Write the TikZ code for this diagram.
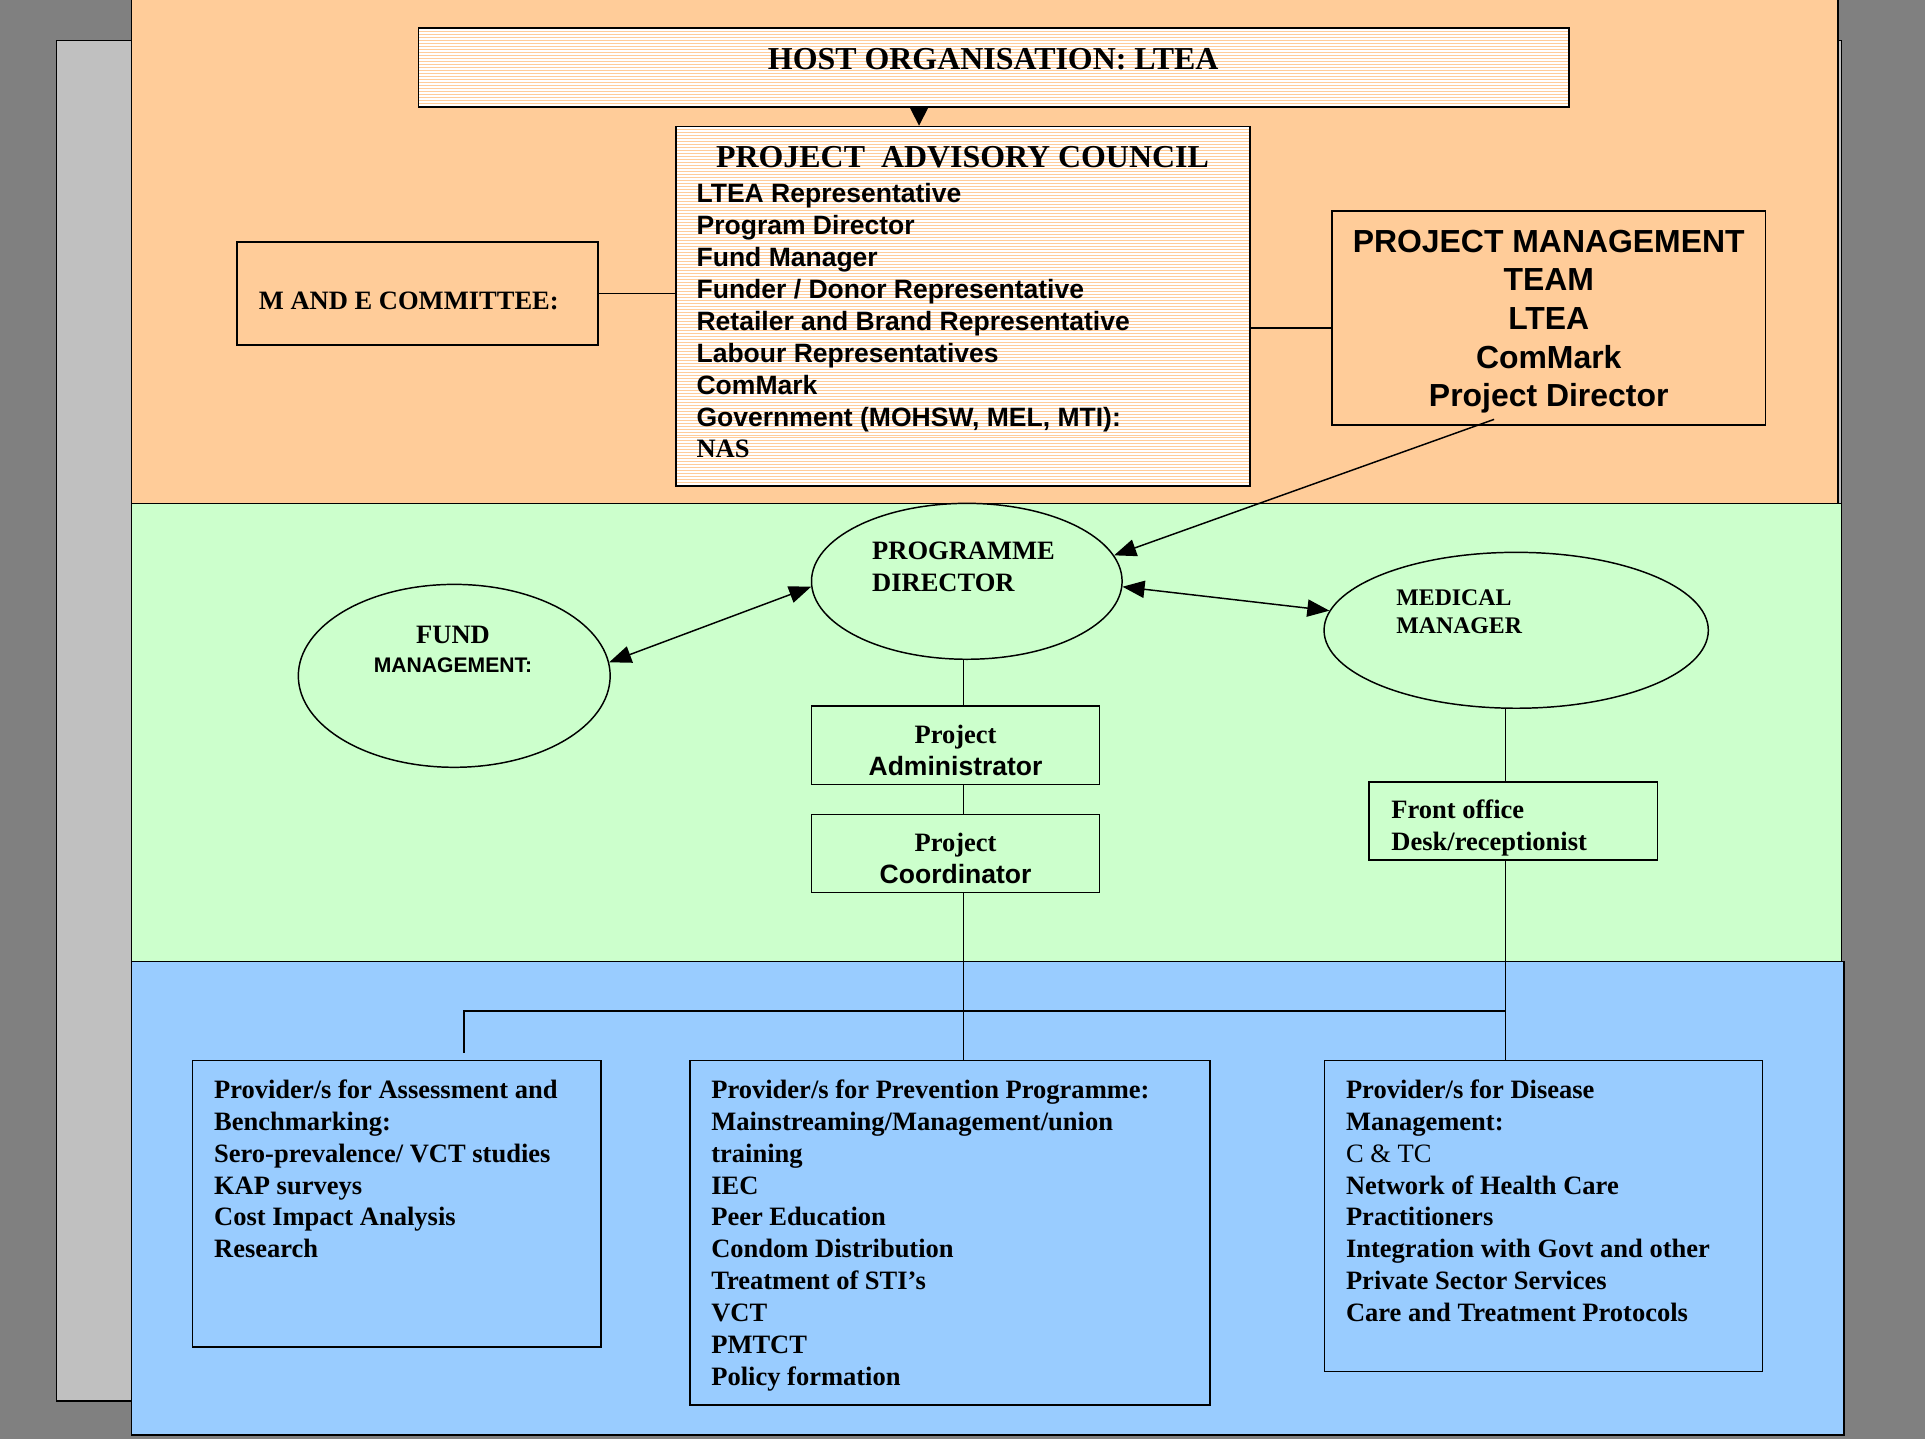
\documentclass[tikz,border=0pt]{standalone}
\usepackage{fontspec}
\setmainfont{Liberation Serif}
\setsansfont{Liberation Sans}
\usetikzlibrary{arrows.meta, positioning, shapes.geometric}

\definecolor{bggray}{HTML}{808080}
\definecolor{panelgray}{HTML}{C0C0C0}
\definecolor{peach}{HTML}{FFCC99}
\definecolor{mint}{HTML}{CCFFCC}
\definecolor{sky}{HTML}{99CCFF}

\begin{document}
\begin{tikzpicture}[
    x=0.5pt, y=-0.5pt,
    box/.style={draw, line width=0.6pt, inner sep=0pt},
    oval/.style={ellipse, draw, line width=0.6pt, inner sep=0pt},
    striped/.style={box, fill=white, path picture={
        \foreach \k in {0,...,125}
          \draw[peach, line width=0.4pt]
            ([yshift=-\k*1.22pt]path picture bounding box.north west) --
            ([yshift=-\k*1.22pt]path picture bounding box.north east);}},
    serifb/.style={font=\fontsize{10.8}{13}\selectfont\bfseries, inner sep=0pt},
    sansb/.style={font=\fontsize{10.8}{13}\selectfont\sffamily\bfseries, inner sep=0pt},
    link/.style={line width=0.6pt},
    arrowline/.style={line width=0.6pt, -{Triangle[length=9pt, width=7pt]}},
    twoway/.style={line width=0.6pt, {Triangle[length=9pt, width=7pt]}-{Triangle[length=9pt, width=7pt]}}
  ]
  % Background bands
  \clip (0,0) rectangle (1568,1172);
  \fill[bggray] (0,0) rectangle (1568,1172);
  \draw[fill=panelgray, line width=0.6pt] (46,33) rectangle (1500,1141);
  \draw[fill=peach, line width=0.6pt] (107,-5) rectangle (1497,410);
  \draw[fill=mint, line width=0.6pt] (107,410) rectangle (1500,783);
  \draw[fill=sky, line width=0.6pt] (107,783) rectangle (1502,1169);

  % Governance
  \node[striped, minimum width=468.5pt, minimum height=32pt] (host) at (809.5,55) {};
  \node[serifb, font=\fontsize{13}{15}\selectfont\bfseries] (hosttext) at (809,48) {HOST ORGANISATION: LTEA};
  \node[striped, minimum width=233.75pt, minimum height=146.5pt] (council) at (784.25,249.5) {};
  \node[serifb, font=\fontsize{13}{15}\selectfont\bfseries] (counciltitle) at (784,128) {PROJECT\ \ ADVISORY COUNCIL};
  \node[sansb, align=left, anchor=north west] (councillist) at (567,149)
    {LTEA Representative\\Program Director\\Fund Manager\\Funder / Donor Representative\\Retailer and Brand Representative\\Labour Representatives\\ComMark\\Government (MOHSW, MEL, MTI):\\{\rmfamily NAS}};
  \node[box, minimum width=147pt, minimum height=42pt] (mande) at (340,239) {};
  \node[serifb] (mandetext) at (333,245) {M AND E COMMITTEE:};
  \node[box, minimum width=176.5pt, minimum height=87pt] (pmt) at (1261.5,259) {};
  \node[align=center, font=\fontsize{13}{15.75}\selectfont\sffamily\bfseries, inner sep=0pt] (pmttext)
    at ([yshift=-1.5pt]pmt.center) {PROJECT MANAGEMENT\\TEAM\\LTEA\\ComMark\\Project Director};

  % Management
  \node[oval, minimum width=126.5pt, minimum height=63.5pt] (prog) at (787.5,473.5) {};
  \node[serifb, align=left, anchor=north west] (progtext) at (710,441) {PROGRAMME\\DIRECTOR};
  \node[oval, minimum width=127pt, minimum height=74.5pt] (fund) at (370,550.5) {};
  \node[serifb, font=\fontsize{10.8}{11.5}\selectfont\bfseries, align=center, anchor=north] (fundtext) at (369,510)
    {FUND\\{\fontsize{8.6}{11.5}\selectfont\sffamily MANAGEMENT:}};
  \node[oval, minimum width=156.5pt, minimum height=63.5pt] (med) at (1235,513.4) {};
  \node[serifb, font=\fontsize{9.7}{11.5}\selectfont\bfseries, align=left, anchor=north west] (medtext) at (1137,480)
    {MEDICAL\\MANAGER};
  \node[box, minimum width=117.35pt, minimum height=32pt] (admin) at (778.35,607) {};
  \node[serifb, align=center] (admintext) at ([yshift=-2pt]admin.center) {Project\\{\sffamily Administrator}};
  \node[box, minimum width=117.35pt, minimum height=31.7pt] (coord) at (778.35,695.3) {};
  \node[serifb, align=center] (coordtext) at ([yshift=-2pt]coord.center) {Project\\{\sffamily Coordinator}};
  \node[box, minimum width=117.5pt, minimum height=31.75pt] (front) at (1232.5,668.75) {};
  \node[serifb, align=left, anchor=north west] (fronttext) at (1133,651) {Front office\\Desk/receptionist};

  % Providers
  \node[box, minimum width=166.2pt, minimum height=116.5pt] (assess) at (323.2,980.5) {};
  \node[serifb, align=left, anchor=north west] (assesstext) at (174,879)
    {Provider/s for Assessment and\\Benchmarking:\\Sero-prevalence/ VCT studies\\KAP surveys\\Cost Impact Analysis\\Research};
  \node[box, minimum width=211.85pt, minimum height=140.2pt] (prev) at (773.85,1004.2) {};
  \node[serifb, align=left, anchor=north west] (prevtext) at (579,879)
    {Provider/s for Prevention Programme:\\Mainstreaming/Management/union\\training\\IEC\\Peer Education\\Condom Distribution\\Treatment of STI’s\\VCT\\PMTCT\\Policy formation};
  \node[box, minimum width=178.4pt, minimum height=126.65pt] (disease) at (1257.4,990.65) {};
  \node[serifb, align=left, anchor=north west] (diseasetext) at (1096,879)
    {Provider/s for Disease\\Management:\\{\mdseries C \& TC}\\Network of Health Care\\Practitioners\\Integration with Govt and other\\Private Sector Services\\Care and Treatment Protocols};

  % Connectors
  \coordinate (hostout) at ([xshift=-30.45pt]host.south);
  \draw[line width=0.6pt, -{Triangle[length=8pt, width=8pt]}] (hostout) -- (hostout |- council.north);
  \draw[link] (mande.east) -- (mande.east -| council.west);
  \coordinate (pmtin) at ([yshift=-4pt]pmt.west);
  \draw[link] (pmtin -| council.east) -- (pmtin);
  \draw[arrowline] ([xshift=-22.25pt, yshift=2.5pt]pmt.south) -- (prog.10);
  \draw[twoway] (fund.5) -- (prog.182);
  \draw[twoway] (prog.-2) -- (med.174);
  \coordinate (spine) at ([xshift=-1.25pt]prog.south);
  \draw[link] (spine) -- (spine |- admin.north);
  \draw[link] (spine |- admin.south) -- (spine |- coord.north);
  \draw[link] (spine |- coord.south) -- (spine |- prev.north);
  \coordinate (medout) at ([xshift=-4.3pt]med.south);
  \draw[link] (medout) -- (medout |- front.north);
  \draw[link] (medout |- front.south) -- (medout |- disease.north);
  \coordinate (busR) at (1226.4,823.5);
  \coordinate (busL) at (378,823.5);
  \draw[link, shorten >=3pt] (busR) -- (busL) -- (busL |- assess.north);
\end{tikzpicture}
\end{document}
